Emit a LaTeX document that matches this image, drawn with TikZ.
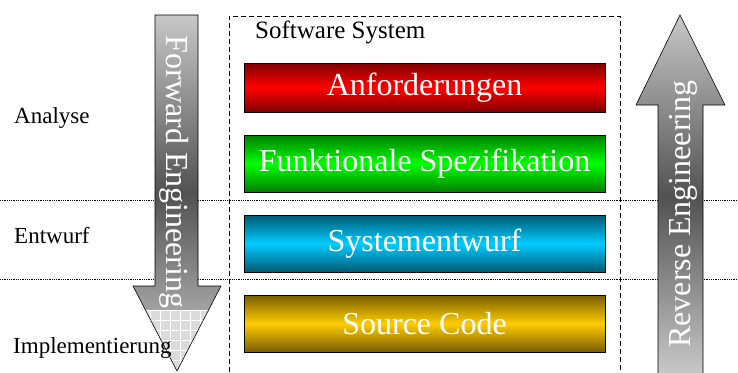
\documentclass[tikz,border=0pt]{standalone}
\usepackage{fontspec}
\setmainfont{Liberation Serif}
\begin{document}
\begin{tikzpicture}[x=1pt,y=-1pt,
  lbl/.style={anchor=base west,inner sep=0pt,font=\fontsize{23}{27}\selectfont},
  phase/.style={draw=black,line width=0.9pt,minimum width=361pt,minimum height=#1,inner sep=0pt,
    text=white,font=\fontsize{32}{38}\selectfont},
  arrowtxt/.style={text=white,inner sep=0pt,font=\fontsize{32}{38}\selectfont},
  bigarrow/.style={top color=black!22,bottom color=black!20,middle color=black!68},
  sep/.style={densely dotted,line width=0.8pt}]
\useasboundingbox (0,0) rectangle (738,372);
% separators
\draw[sep] (0,200) -- (738,200);
\draw[sep] (0,279) -- (738,279);
% software system frame
\draw[dash pattern=on 5pt off 3pt,line width=0.8pt] (229,380) -- (229,16) -- (620,16) -- (620,380);
\node[anchor=base west,inner sep=0pt,font=\fontsize{25}{29}\selectfont] (sys) at (255,38) {Software System};
% forward arrow
\path[bigarrow] (155,15) -- (198,15) -- (198,286) -- (221,286) -- (177,371) -- (133,286) -- (155,286) -- cycle;
\begin{scope}
  \clip (155,15) -- (198,15) -- (198,286) -- (221,286) -- (177,371) -- (133,286) -- (155,286) -- cycle;
  \fill[black!14] (120,310) rectangle (230,380);
  \foreach \gx in {130,140,...,230} \draw[white,line width=0.7pt] (\gx,310) -- (\gx,380);
  \foreach \gy in {310,320,...,380} \draw[white,line width=0.7pt] (120,\gy) -- (230,\gy);
\end{scope}
\draw[line width=0.6pt] (155,15) -- (198,15) -- (198,286) -- (221,286) -- (177,371) -- (133,286) -- (155,286) -- cycle;
\node[arrowtxt,rotate=-90] (fwd) at (174,172) {Forward Engineering};
% reverse arrow
\path[bigarrow,draw=black,line width=0.6pt] (680,15) -- (725,105) -- (703,105) -- (703,380) -- (658,380) -- (658,105) -- (636,105) -- cycle;
\node[arrowtxt,rotate=90] (rev) at (683,214) {Reverse Engineering};
% phase boxes
\node[phase=49pt,top color=red!50!black,bottom color=red!50!black,middle color=red] (anf) at (424.5,87.5) {Anforderungen};
\node[phase=57pt,top color=green!50!black,bottom color=green!50!black,middle color=green] (fun) at (424.5,163.5) {Funktionale Spezifikation};
\node[phase=57pt,top color={rgb,255:red,0;green,90;blue,115},bottom color={rgb,255:red,0;green,90;blue,115},middle color={rgb,255:red,0;green,204;blue,255}] (ent) at (424.5,243.5) {Systementwurf};
\node[phase=57pt,top color={rgb,255:red,120;green,92;blue,0},bottom color={rgb,255:red,120;green,92;blue,0},middle color={rgb,255:red,255;green,204;blue,0}] (src) at (424.5,323.5) {Source Code};
% phase labels
\node[lbl] (la) at (14,123) {Analyse};
\node[lbl] (le) at (14,243) {Entwurf};
\node[lbl] (li) at (13,353) {Implementierung};
\end{tikzpicture}
\end{document}
